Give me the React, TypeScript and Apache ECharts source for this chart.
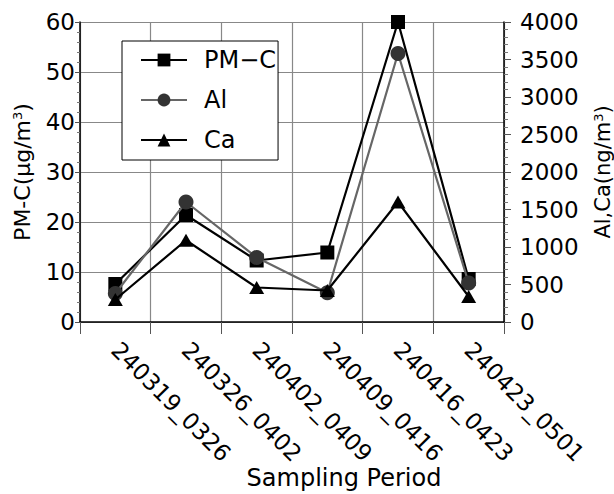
import React, { useEffect, useRef } from "react";
import * as echarts from "echarts";

const categories = [
  "240319_0326",
  "240326_0402",
  "240402_0409",
  "240409_0416",
  "240416_0423",
  "240423_0501",
];
const pmC = [7.6, 21.4, 12.3, 13.9, 60, 8.6];
const al = [380, 1600, 860, 390, 3580, 520];
const ca = [300, 1090, 460, 420, 1600, 340];
const leftTicks = { min: 0, max: 60, interval: 10 };
const rightTicks = { min: 0, max: 4000, interval: 500 };

const FONT = "DejaVu Sans";

export default function App() {
  const ref = useRef<HTMLDivElement>(null);
  useEffect(() => {
    if (!ref.current) return;
    const chart = echarts.init(ref.current, undefined, { renderer: "svg" });
    chart.setOption({
      animation: false,
      backgroundColor: "#fff",
      textStyle: { fontFamily: FONT, color: "#000" },
      grid: { left: 80, right: 110, top: 22, bottom: 172, outerBoundsMode: "none", containLabel: false },
      legend: {
        orient: "vertical",
        left: 122,
        top: 41,
        width: 157,
        padding: [7, 2, 8, 18],
        itemWidth: 46,
        itemHeight: 16,
        itemGap: 16,
        borderColor: "#000",
        borderWidth: 1,
        backgroundColor: "#fff",
        textStyle: { fontSize: 24, fontFamily: FONT, color: "#000", padding: [0, 0, 0, 12] },
        data: ["PM−C", "Al", "Ca"],
      },
      xAxis: {
        type: "category",
        data: categories,
        boundaryGap: true,
        axisLine: { lineStyle: { color: "#000", width: 1.5 } },
        axisTick: { show: true, length: 12, lineStyle: { color: "#555" } },
        axisLabel: {
          rotate: -45,
          fontSize: 23,
          fontFamily: FONT,
          color: "#000",
          margin: 24,
          interval: 0,
        },
        splitLine: { show: true, lineStyle: { color: "#888", width: 1.2 } },
        name: "Sampling Period",
        nameLocation: "middle",
        nameGap: 144,
        nameMoveOverlap: false,
        nameTextStyle: { fontSize: 24, fontFamily: FONT, color: "#000", padding: [0, 0, 0, 104] },
      },
      yAxis: [
        {
          type: "value",
          ...leftTicks,
          position: "left",
          axisLine: { show: true, lineStyle: { color: "#000", width: 1.5 } },
          axisTick: { show: true, length: 5, lineStyle: { color: "#555" } },
          minorTick: { show: true, splitNumber: 5, length: 3, lineStyle: { color: "#777" } },
          axisLabel: { fontSize: 23, fontFamily: FONT, color: "#000", margin: 5 },
          splitLine: { show: true, lineStyle: { color: "#888", width: 1.2 } },
          name: "PM-C(μg/m{sup|3})",
          nameLocation: "middle",
          nameRotate: 90,
          nameGap: 47,
          nameMoveOverlap: false,
          nameTextStyle: {
            fontSize: 22,
            fontFamily: FONT,
            color: "#000",
            rich: { sup: { fontSize: 13, verticalAlign: "top", fontFamily: FONT, color: "#000" } },
          },
        },
        {
          type: "value",
          ...rightTicks,
          position: "right",
          axisLine: { show: true, lineStyle: { color: "#000", width: 1.5 } },
          axisTick: { show: true, length: 7, lineStyle: { color: "#555" } },
          minorTick: { show: true, splitNumber: 5, length: 4, lineStyle: { color: "#777" } },
          axisLabel: {
            fontSize: 23,
            fontFamily: FONT,
            color: "#000",
            margin: 16,
            formatter: (v: number) => String(v),
          },
          splitLine: { show: false },
          name: "Al,Ca(ng/m{sup|3})",
          nameLocation: "middle",
          nameRotate: 90,
          nameGap: 88,
          nameMoveOverlap: false,
          nameTextStyle: {
            fontSize: 21,
            fontFamily: FONT,
            color: "#000",
            rich: { sup: { fontSize: 13, verticalAlign: "top", fontFamily: FONT, color: "#000" } },
          },
        },
      ],
      series: [
        {
          name: "PM−C",
          type: "line",
          yAxisIndex: 0,
          data: pmC,
          symbol: "rect",
          symbolSize: 14,
          lineStyle: { color: "#000", width: 2.2 },
          itemStyle: { color: "#000" },
          z: 3,
        },
        {
          name: "Al",
          type: "line",
          yAxisIndex: 1,
          data: al,
          symbol: "circle",
          symbolSize: 15,
          lineStyle: { color: "#666", width: 2.2 },
          itemStyle: { color: "#333" },
          z: 4,
        },
        {
          name: "Ca",
          type: "line",
          yAxisIndex: 1,
          data: ca,
          symbol: "triangle",
          symbolSize: [15, 13],
          lineStyle: { color: "#000", width: 2.2 },
          itemStyle: { color: "#000" },
          z: 5,
        },
      ],
    });
    return () => chart.dispose();
  }, []);
  return <div ref={ref} style={{ width: 614, height: 494, position: "absolute", left: 0, top: 0 }} />;
}
